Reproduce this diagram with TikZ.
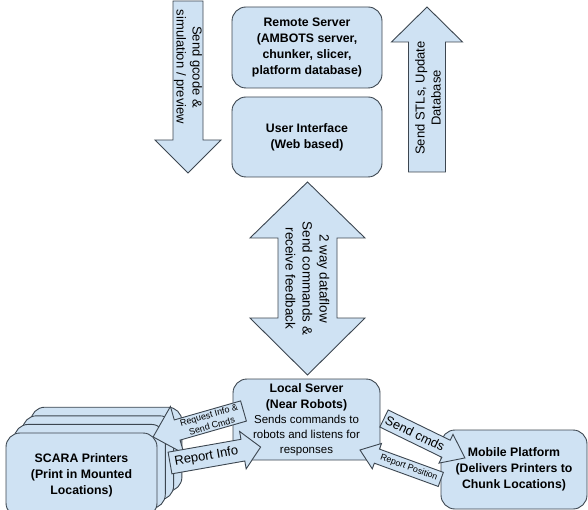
\documentclass[tikz,border=0pt]{standalone}
\usepackage{fontspec}
\setmainfont{Liberation Sans}
\usepackage{tikz}
\usetikzlibrary{positioning, calc}
\usepackage{xcolor}
\definecolor{boxfill}{HTML}{CFE2F3}
\definecolor{boxline}{HTML}{3C4650}

% block arrow: name, tail, angle, length, shaft half width, head half width, head length
\newcommand{\blockarrow}[7]{%
    \begin{scope}[shift={#2}, rotate=#3]
        \draw[arrowbox] (0,-#5) -- ({#4-#7},-#5) -- ({#4-#7},-#6) -- (#4,0) -- ({#4-#7},#6) -- ({#4-#7},#5) -- (0,#5) -- cycle;
        \coordinate (#1) at ({(#4-#7)/2},0);
    \end{scope}}

\begin{document}
\begin{tikzpicture}[x=1pt, y=1pt,
        box/.style={draw=boxline, fill=boxfill, line width=0.9pt, rounded corners=14pt, minimum width=150pt, minimum height=81pt, align=center, inner sep=0pt, font=\fontsize{12.3}{16}\selectfont\bfseries},
        arrowbox/.style={draw=boxline, fill=boxfill, line width=0.9pt, line join=miter},
        arrowtext/.style={align=center, inner sep=0pt, font=\fontsize{13}{16}\selectfont}]
        \useasboundingbox (0,0) rectangle (588,-510);
        \clip (0,0) rectangle (588,-510);

        % Server
        \node[box] (remote) at (307,-47.5) {Remote Server\\(AMBOTS server,\\chunker, slicer,\\platform database)};
        \node[box, minimum height=80pt] (ui) at (307,-137) {User Interface\\(Web based)};
        \node[box, minimum width=147pt] (local) at (306.5,-419.5) {Local Server\\(Near Robots)\\[-1pt]
            {\fontsize{11.5}{14.5}\selectfont\mdseries Sends commands to}\\[-1pt]
            {\fontsize{11.5}{14.5}\selectfont\mdseries robots and listens for}\\[-1pt]
            {\fontsize{11.5}{14.5}\selectfont\mdseries responses}};
        \node[box, minimum width=146pt, minimum height=79pt] (mobile) at (514,-469.5) {Mobile Platform\\(Delivers Printers to\\Chunk Locations)};

        % Printers (stack)
        \foreach \i in {3,2,1} {
            \node[box, minimum width=151pt, minimum height=84pt] (scara\i) at ({81.5+8.3*\i},{-475+8.6*\i}) {};
        }
        \node[box, minimum width=151pt, minimum height=84pt] (scara) at (81.5,-475) {SCARA Printers\\(Print in Mounted\\Locations)};

        % Remote <-> UI
        \blockarrow{gcode}{(188,-1)}{-90}{172}{15}{33}{33}
        \node[arrowtext, rotate=-90] (gcodetext) at (188,-67) {Send gcode \&\\simulation / preview};
        \blockarrow{stl}{(427,-172)}{90}{165}{18.5}{35.5}{35}
        \node[arrowtext, rotate=90] (stltext) at (428,-98) {Send STLs, Update\\Database};

        % UI <-> Local
        \draw[arrowbox] (307.5,-182) -- (365,-238) -- (337,-238) -- (337,-318) -- (365,-318) -- (307.5,-375)
            -- (250,-318) -- (278,-318) -- (278,-238) -- (250,-238) -- cycle;
        \coordinate (dataflow) at (307.5,-278.5);
        \node[arrowtext, rotate=-90, font=\fontsize{13.4}{17}\selectfont] (dataflowtext) at (dataflow) {2 way dataflow\\Send commands \&\\receive feedback};

        % Local <-> Printers
        \blockarrow{request}{(243.5,-411)}{196}{94}{10.5}{24.5}{25}
        \node[arrowtext, rotate=16, font=\fontsize{9}{11}\selectfont] (requesttext) at (request) {Request Info \&\\Send Cmds};
        \blockarrow{report}{(170,-463)}{10}{92}{11}{19}{18}
        \node[arrowtext, rotate=10] (reporttext) at (report) {Report Info};

        % Local <-> Mobile
        \blockarrow{cmds}{(384,-418.5)}{-26}{90}{9.5}{16}{21}
        \node[arrowtext, rotate=-26, font=\fontsize{12.8}{15}\selectfont] (cmdstext) at (cmds) {Send cmds};
        \blockarrow{position}{(440.8,-479.4)}{160}{86}{7.5}{13.5}{18}
        \node[arrowtext, rotate=-20, font=\fontsize{8.8}{10}\selectfont] (positiontext) at (position) {Report Position};
    \end{tikzpicture}
\end{document}
